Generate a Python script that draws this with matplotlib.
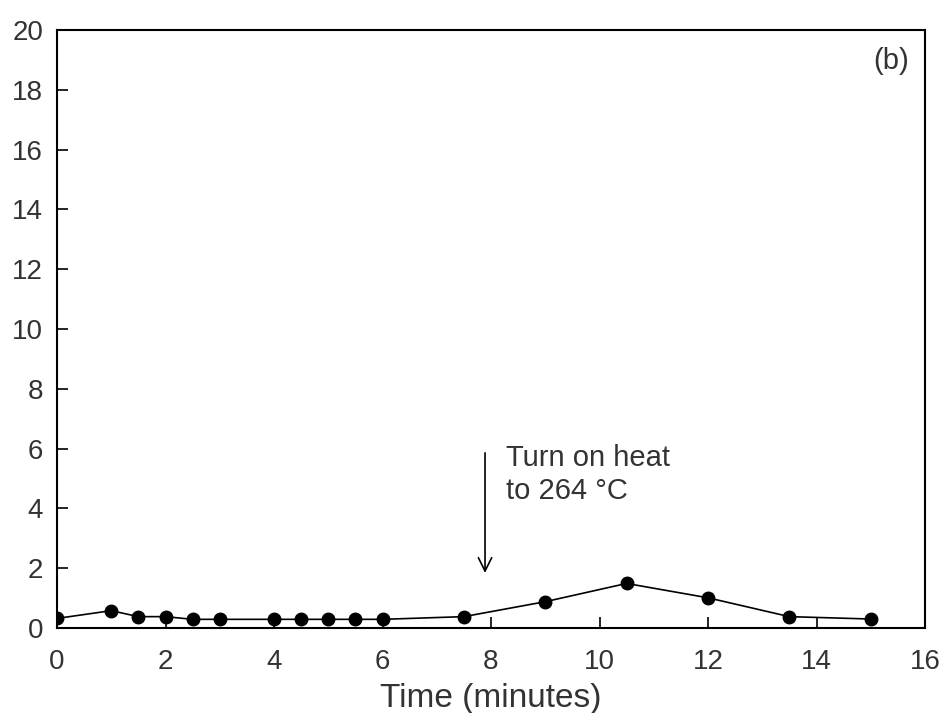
import numpy as np
import matplotlib
matplotlib.use('Agg')
from matplotlib import pyplot as plt

# data
time_min = [0, 1, 1.5, 2, 2.5, 3, 4, 4.5, 5, 5.5, 6, 7.5, 9, 10.5, 12, 13.5, 15]
signal = [0.32, 0.58, 0.38, 0.38, 0.29, 0.29, 0.29, 0.29, 0.29, 0.29, 0.29,
          0.38, 0.88, 1.49, 1.01, 0.38, 0.30]
x_ticks = [0, 2, 4, 6, 8, 10, 12, 14, 16]
y_ticks = [0, 2, 4, 6, 8, 10, 12, 14, 16, 18, 20]

plt.rcParams['font.family'] = ['Liberation Sans', 'DejaVu Sans']

fig = plt.figure(figsize=(9.44, 7.13), dpi=100)
ax = fig.add_axes([57/944, 1 - 628/713, (925 - 57)/944, (628 - 30)/713])

ax.plot(time_min, signal, color='black', linewidth=1.2, marker='o',
        markersize=9, markerfacecolor='black', markeredgecolor='black')

ax.set_xlim(0, 16)
ax.set_ylim(0, 20)
ax.set_xticks(x_ticks)
ax.set_yticks(y_ticks)
ax.tick_params(direction='in', length=8, width=1.2, labelsize=20,
               colors='black', labelcolor='#333333',
               top=False, right=False)
ax.tick_params(axis='x', pad=15)
ax.tick_params(axis='y', pad=10)
for spine in ax.spines.values():
    spine.set_linewidth(1.5)

ax.set_xlabel('Time (minutes)', fontsize=24, color='#333333', labelpad=6)

# arrow and note
ax.annotate('', xy=(7.89, 1.75), xytext=(7.89, 5.95),
            arrowprops=dict(arrowstyle='->', color='black', lw=1.2,
                            mutation_scale=24))
ax.text(8.27, 6.15, 'Turn on heat\nto 264 °C', fontsize=21, color='#333333',
        ha='left', va='top', linespacing=1.2)

ax.text(0.982, 0.972, '(b)', transform=ax.transAxes, fontsize=21,
        color='#333333', ha='right', va='top')

fig.savefig('out.png', dpi=100)
